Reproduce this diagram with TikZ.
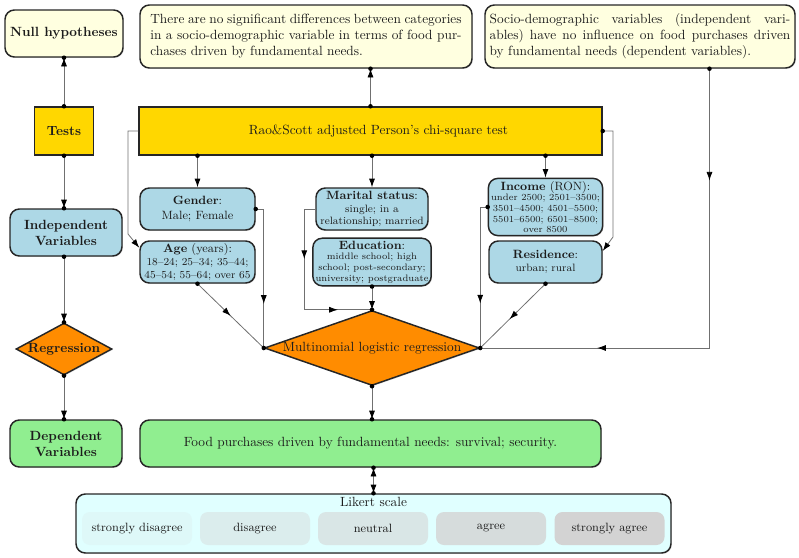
\documentclass[tikz,border=0pt]{standalone}
\usetikzlibrary{arrows.meta,shapes.geometric,decorations.markings,calc,shadows}
\definecolor{cLY}{HTML}{FFFFE0}
\definecolor{cGold}{HTML}{FFD700}
\definecolor{cLB}{HTML}{ADD8E6}
\definecolor{cOr}{HTML}{FF8C00}
\definecolor{cLG}{HTML}{90EE90}
\definecolor{cLC}{HTML}{E0FFFF}
\definecolor{cGr}{HTML}{D3D3D3}
\definecolor{cTxt}{HTML}{1C1C1C}
\definecolor{cLine}{HTML}{707070}
\tikzset{
  base/.style={draw=black!85, line width=1.1pt, text=cTxt, align=center, inner sep=2pt,
    drop shadow={opacity=0.25,shadow xshift=0.7pt,shadow yshift=-0.7pt}},
  rbox/.style={base, rounded corners=7pt},
  sbox/.style={base},
  dmd/.style={base, diamond, inner sep=0pt},
  conn/.style={draw=cLine, line width=0.6pt},
  endarr/.style={-{Latex[color=black,length=6.5pt,width=4.5pt]}},
  bothabr/.style={{Latex[color=black,length=6.5pt,width=4.5pt]}-{Latex[color=black,length=6.5pt,width=4.5pt]}},
  midarr/.style={postaction={decorate, decoration={markings, mark=at position #1 with {\arrow{Latex[color=black,length=6.5pt,width=4.5pt]}}}}},
  lk/.style={fill=#1, rounded corners=6pt, minimum width=110*0.75pt, minimum height=33*0.75pt, text=cTxt, inner sep=1pt, font=\small},
}
\begin{document}
\begin{tikzpicture}[x=0.75pt,y=-0.75pt]
\useasboundingbox (0,0) rectangle (799,557);

% left column
\node[rbox, fill=cLY, minimum width=118*0.75pt, minimum height=47*0.75pt, font=\bfseries] (nullh) at (64,33.5) {Null hypotheses};
\node[sbox, fill=cGold, minimum width=59*0.75pt, minimum height=48*0.75pt, font=\bfseries] (tests) at (64,131) {Tests};
\node[rbox, fill=cLB, minimum width=112*0.75pt, minimum height=47*0.75pt, font=\bfseries] (indep) at (66,232.5) {Independent\\Variables};
\node[dmd, fill=cOr, minimum width=96*0.75pt, minimum height=52*0.75pt, font=\bfseries] (reg) at (64,349) {\makebox[0pt]{Regression}};
\node[rbox, fill=cLG, minimum width=112*0.75pt, minimum height=47*0.75pt, font=\bfseries] (dv) at (66,443.5) {Dependent\\Variables};

% hypotheses
\node[rbox, fill=cLY, minimum width=332*0.75pt, minimum height=63*0.75pt, text width=233.5pt, align=justify] (hypa) at (306,36.5)
  {There are no significant differences between categories\linebreak in a socio-demographic variable in terms of food pur-\linebreak chases driven by fundamental needs.};
\node[rbox, fill=cLY, minimum width=310*0.75pt, minimum height=63*0.75pt, text width=225.5pt, align=justify] (hypb) at (640,36.5)
  {Socio-demographic variables (independent vari-\linebreak ables) have no influence on food purchases driven\linebreak by fundamental needs (dependent variables).};

% test box
\node[sbox, fill=cGold, minimum width=463*0.75pt, minimum height=48*0.75pt] (rao) at (370.5,131) {\hspace*{12pt}Rao\&Scott adjusted Person's chi-square test};

% independent variables
\node[rbox, fill=cLB, minimum width=115*0.75pt, minimum height=42*0.75pt, font=\small] (gender) at (197.5,209) {\textbf{Gender}:\\Male; Female};
\node[rbox, fill=cLB, minimum width=115*0.75pt, minimum height=42*0.75pt, font=\footnotesize] (age) at (197.5,262)
  {{\small\textbf{Age} (years):}\\18--24; 25--34; 35--44;\\45--54; 55--64; over 65};
\node[rbox, fill=cLB, minimum width=112*0.75pt, minimum height=42*0.75pt, font=\footnotesize] (marital) at (372,209)
  {{\small\textbf{Marital status}:}\\single; in a\\relationship; married};
\node[rbox, fill=cLB, minimum width=112*0.75pt, minimum height=42*0.75pt, font=\scriptsize] (education) at (372,262)
  {{\small\textbf{Education}:}\\middle school; high\\school; post-secondary;\\university; postgraduate};
\node[rbox, fill=cLB, minimum width=113*0.75pt, minimum height=48*0.75pt, font=\scriptsize] (income) at (545.5,207)
  {{\small\textbf{Income} (RON):}\\under 2500; 2501--3500;\\3501--4500; 4501--5500;\\5501--6500; 6501--8500;\\over 8500};
\node[rbox, fill=cLB, minimum width=113*0.75pt, minimum height=42*0.75pt, font=\footnotesize] (residence) at (545.5,262)
  {{\small\textbf{Residence}:}\\urban; rural};

% regression
\node[dmd, fill=cOr, minimum width=215*0.75pt, minimum height=75*0.75pt] (multi) at (372,348) {\makebox[0pt]{Multinomial logistic regression}};

% dependent
\node[rbox, fill=cLG, minimum width=461*0.75pt, minimum height=47*0.75pt] (food) at (370.5,443.5) {Food purchases driven by fundamental needs: survival; security.};

% likert
\node[rbox, fill=cLC, minimum width=595*0.75pt, minimum height=59*0.75pt] (likert) at (373.5,523.5) {};
\node[text=cTxt, anchor=north, inner sep=2.5pt] (lktitle) at (likert.north) {Likert scale};
\node[lk=cGr!16!cLC] (lk1) at (137,528.5) {strongly disagree};
\node[lk=cGr!41!cLC] (lk2) at (255,528.5) {disagree};
\node[lk=cGr!57!cLC] (lk3) at (373,528.5) {neutral};
\node[lk=cGr!80!cLC] (lk4) at (491,528.5) {agree};
\node[lk=cGr] (lk5) at (609.5,528.5) {strongly agree};

% connectors, left column
\draw[conn,endarr] (tests.north) -- (nullh.south);
\draw[conn,endarr] (tests.south) -- (tests.south |- indep.north);
\draw[conn,endarr] (tests.south |- indep.south) -- (reg.north);
\draw[conn,endarr] (reg.south) -- (reg.south |- dv.north);
\foreach \p in {tests.north,nullh.south,tests.south,reg.north,reg.south}{\fill[black] (\p) circle (1.7pt);}
\fill[black] (tests.south |- indep.north) circle (1.7pt);
\fill[black] (tests.south |- indep.south) circle (1.7pt);
\fill[black] (reg.south |- dv.north) circle (1.7pt);

% test to hypothesis and variables
\draw[conn,endarr] (rao.north) -- (rao.north |- hypa.south);
\draw[conn,endarr] (rao.south -| gender.north) -- (gender.north);
\draw[conn,endarr] (rao.south -| marital.north) -- (marital.north);
\draw[conn,endarr] (rao.south -| income.north) -- (income.north);
\coordinate (elbL) at (128,234);
\coordinate (elbR) at (613,237);
\draw[conn,endarr] (rao.west) -| (elbL) -- ([yshift=-5.6pt]age.north west);
\draw[conn,endarr] (rao.east) -| (elbR) -- ([yshift=-8pt]residence.north east);
\fill[black] (rao.north) circle (1.7pt);
\fill[black] (rao.north |- hypa.south) circle (1.7pt);
\fill[black] (rao.south -| gender.north) circle (1.7pt);
\fill[black] (rao.south -| marital.north) circle (1.7pt);
\fill[black] (rao.south -| income.north) circle (1.7pt);
\fill[black] (rao.east) circle (1.7pt);

% variables to regression
\draw[conn,midarr=0.7] (gender.east) -| (multi.west);
\draw[conn,midarr=0.5] (age.south) -- (multi.west);
\draw[conn,midarr=0.34,midarr=0.81] (marital.west) -- ++(-11,0) |- (multi.north);
\draw[conn,endarr] (education.south) -- (multi.north);
\draw[conn,midarr=0.7] (income.west) -| (multi.east);
\draw[conn,midarr=0.55] (residence.south) -- (multi.east);
\coordinate (hpt) at ($(hypb.south west)!0.723!(hypb.south east)$);
\draw[conn,midarr=0.22,midarr=0.77] (hpt) |- (multi.east);
\draw[conn,endarr] (multi.south) -- (multi.south |- food.north);
\draw[conn,bothabr] (likert.north |- food.south) -- (likert.north);
\foreach \p in {gender.east,age.south,multi.west,multi.north,education.south,income.west,residence.south,multi.east,hpt,multi.south,likert.north}{\fill[black] (\p) circle (1.7pt);}
\fill[black] (multi.south |- food.north) circle (1.7pt);
\fill[black] (likert.north |- food.south) circle (1.7pt);
\end{tikzpicture}
\end{document}
